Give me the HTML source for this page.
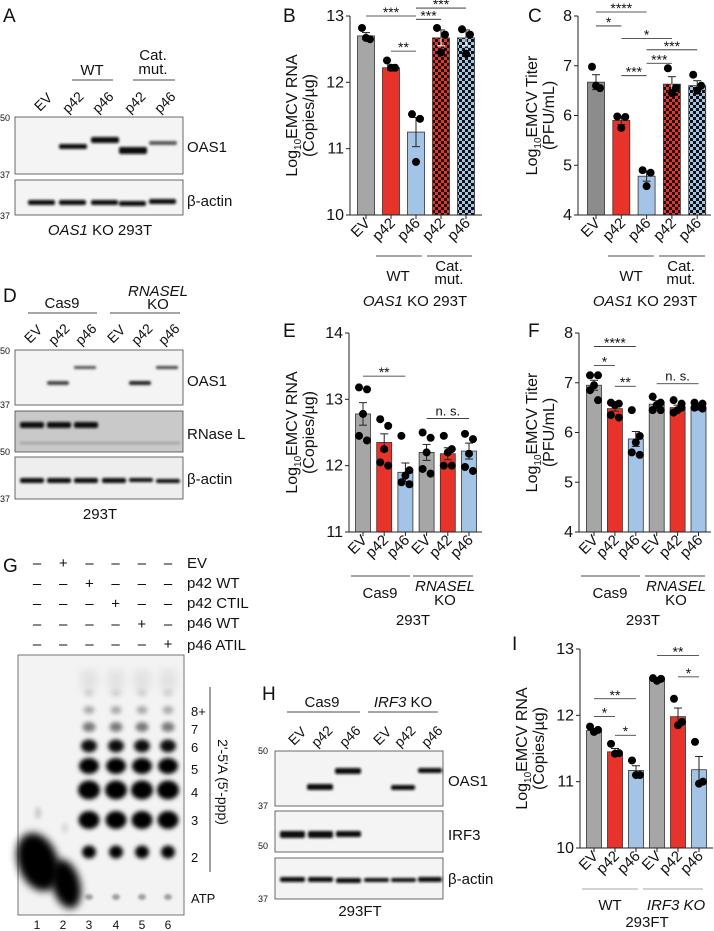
<!DOCTYPE html>
<html><head><meta charset="utf-8">
<style>
html,body{margin:0;padding:0;background:#fff;}
svg{display:block;font-family:"Liberation Sans",Arial,sans-serif;}
</style></head>
<body>
<svg id="fig" width="714" height="931" viewBox="0 0 714 931" xmlns="http://www.w3.org/2000/svg">
<defs>
<pattern id="chkRed" width="6" height="6" patternUnits="userSpaceOnUse"><rect width="6" height="6" fill="#e8332a"/><rect width="3" height="3" fill="#111"/><rect x="3" y="3" width="3" height="3" fill="#111"/></pattern>
<pattern id="chkBlue" width="6" height="6" patternUnits="userSpaceOnUse"><rect width="6" height="6" fill="#a3c4e6"/><rect width="3" height="3" fill="#111"/><rect x="3" y="3" width="3" height="3" fill="#111"/></pattern>
<filter id="blur1" x="-50%" y="-50%" width="200%" height="200%"><feGaussianBlur stdDeviation="1.2"/></filter>
<filter id="blur2" x="-50%" y="-50%" width="200%" height="200%"><feGaussianBlur stdDeviation="2"/></filter>
<filter id="blur3" x="-50%" y="-50%" width="200%" height="200%"><feGaussianBlur stdDeviation="4"/></filter>
</defs>
<g id="static" font-size="14" fill="#111">
<text x="3" y="22" font-size="19">A</text>
<text x="283" y="22" font-size="19">B</text>
<text x="528" y="22" font-size="19">C</text>
<text x="3" y="302" font-size="19">D</text>
<text x="283" y="337" font-size="19">E</text>
<text x="528" y="337" font-size="19">F</text>
<text x="3" y="572" font-size="19">G</text>
<text x="262" y="700" font-size="19">H</text>
<text x="512" y="650" font-size="19">I</text>

<!-- Panel A blot -->
<g>
<text x="92" y="75" text-anchor="middle" font-size="15">WT</text>
<line x1="72" y1="80" x2="113" y2="80" stroke="#111" stroke-width="0.8"/>
<text x="153" y="60" text-anchor="middle" font-size="15">Cat.</text>
<text x="153" y="74" text-anchor="middle" font-size="15">mut.</text>
<line x1="133" y1="80" x2="175" y2="80" stroke="#111" stroke-width="0.8"/>
<text transform="translate(40,112) rotate(-45)" font-size="14">EV</text>
<text transform="translate(68,114) rotate(-45)" font-size="14">p42</text>
<text transform="translate(98,114) rotate(-45)" font-size="14">p46</text>
<text transform="translate(130,114) rotate(-45)" font-size="14">p42</text>
<text transform="translate(160,114) rotate(-45)" font-size="14">p46</text>
<rect x="15" y="117" width="168" height="57" fill="#f4f4f4" stroke="#444" stroke-width="0.8"/>
<rect x="15" y="180" width="168" height="35" fill="#f4f4f4" stroke="#444" stroke-width="0.8"/>
<g filter="url(#blur1)" fill="#111">
<rect x="59" y="144" width="28" height="5" rx="2"/>
<rect x="91" y="137" width="28" height="6" rx="2"/>
<rect x="119" y="147" width="28" height="7" rx="2"/>
<rect x="149" y="141" width="28" height="4" rx="2" fill="#555"/>
<rect x="28" y="200" width="27" height="5" rx="2"/>
<rect x="59" y="200" width="27" height="5" rx="2"/>
<rect x="91" y="200" width="27" height="5" rx="2"/>
<rect x="119" y="201" width="27" height="5" rx="2"/>
<rect x="149" y="199" width="27" height="5" rx="2"/>
</g>
<text x="0" y="121" font-size="9">50</text>
<text x="0" y="178" font-size="9">37</text>
<text x="0" y="219" font-size="9">37</text>
<text x="187" y="152" font-size="15">OAS1</text>
<text x="187" y="206" font-size="15">β-actin</text>
<text x="100" y="235" text-anchor="middle" font-size="15"><tspan font-style="italic">OAS1</tspan> KO 293T</text>
</g>

<!-- Panel D blot -->
<g>
<text x="62" y="308" text-anchor="middle" font-size="15">Cas9</text>
<line x1="28" y1="313" x2="97" y2="313" stroke="#111" stroke-width="0.8"/>
<text x="158" y="296" text-anchor="middle" font-size="15" font-style="italic">RNASEL</text>
<text x="158" y="309" text-anchor="middle" font-size="15">KO</text>
<line x1="110" y1="313" x2="180" y2="313" stroke="#111" stroke-width="0.8"/>
<text transform="translate(30,344) rotate(-45)" font-size="14">EV</text>
<text transform="translate(54,346) rotate(-45)" font-size="14">p42</text>
<text transform="translate(81,346) rotate(-45)" font-size="14">p46</text>
<text transform="translate(113,344) rotate(-45)" font-size="14">EV</text>
<text transform="translate(137,346) rotate(-45)" font-size="14">p42</text>
<text transform="translate(164,346) rotate(-45)" font-size="14">p46</text>
<rect x="15" y="350" width="168" height="55" fill="#f4f4f4" stroke="#444" stroke-width="0.8"/>
<rect x="15" y="411" width="168" height="41" fill="#c9c9c9" stroke="#444" stroke-width="0.8"/>
<rect x="15" y="457" width="168" height="42" fill="#eeeeee" stroke="#444" stroke-width="0.8"/>
<g filter="url(#blur1)" fill="#222">
<rect x="47" y="381" width="22" height="4" rx="2" fill="#444"/>
<rect x="74" y="366" width="22" height="3" rx="1" fill="#555"/>
<rect x="129" y="381" width="22" height="4" rx="2"/>
<rect x="156" y="366" width="22" height="3" rx="1" fill="#444"/>
<rect x="20" y="422" width="24" height="6" rx="2" fill="#111"/>
<rect x="47" y="422" width="24" height="6" rx="2" fill="#111"/>
<rect x="74" y="422" width="24" height="6" rx="2" fill="#111"/>
<rect x="20" y="442" width="160" height="2" fill="#999"/>
<rect x="20" y="478" width="24" height="5" rx="2" fill="#111"/>
<rect x="47" y="478" width="24" height="5" rx="2" fill="#111"/>
<rect x="74" y="478" width="24" height="5" rx="2" fill="#111"/>
<rect x="102" y="478" width="24" height="5" rx="2" fill="#111"/>
<rect x="129" y="478" width="24" height="4" rx="2" fill="#111"/>
<rect x="156" y="479" width="24" height="4" rx="2" fill="#111"/>
</g>
<text x="0" y="354" font-size="9">50</text>
<text x="0" y="408" font-size="9">37</text>
<text x="0" y="455" font-size="9">50</text>
<text x="0" y="502" font-size="9">37</text>
<text x="187" y="386" font-size="15">OAS1</text>
<text x="187" y="439" font-size="15">RNase L</text>
<text x="187" y="484" font-size="15">β-actin</text>
<text x="100" y="519" text-anchor="middle" font-size="15">293T</text>
</g>

<!-- Panel G -->
<g font-size="15">
<g id="signs"></g>
<text x="187" y="568">EV</text>
<text x="187" y="588">p42 WT</text>
<text x="187" y="608">p42 CTIL</text>
<text x="187" y="628">p46 WT</text>
<text x="187" y="650">p46 ATIL</text>
<rect x="18" y="655" width="166" height="260" fill="#f3f3f3" stroke="#555" stroke-width="0.8"/>
<g id="spots"></g>
<text x="191" y="716" font-size="13">8+</text>
<text x="191" y="734" font-size="13">7</text>
<text x="191" y="752" font-size="13">6</text>
<text x="191" y="774" font-size="13">5</text>
<text x="191" y="797" font-size="13">4</text>
<text x="191" y="825" font-size="13">3</text>
<text x="191" y="862" font-size="13">2</text>
<text x="191" y="903" font-size="13">ATP</text>
<line x1="210" y1="687" x2="210" y2="872" stroke="#111" stroke-width="0.8"/>
<text transform="translate(218,782) rotate(90)" text-anchor="middle" font-size="14">2'-5'A (5'-ppp)</text>
<text x="37" y="929" text-anchor="middle" font-size="12">1</text>
<text x="63" y="929" text-anchor="middle" font-size="12">2</text>
<text x="89" y="929" text-anchor="middle" font-size="12">3</text>
<text x="116" y="929" text-anchor="middle" font-size="12">4</text>
<text x="142" y="929" text-anchor="middle" font-size="12">5</text>
<text x="168" y="929" text-anchor="middle" font-size="12">6</text>
</g>

<!-- Panel H -->
<g>
<text x="322" y="707" text-anchor="middle" font-size="15">Cas9</text>
<line x1="287" y1="712" x2="360" y2="712" stroke="#111" stroke-width="0.8"/>
<text x="403" y="707" text-anchor="middle" font-size="15"><tspan font-style="italic">IRF3</tspan> KO</text>
<line x1="368" y1="712" x2="438" y2="712" stroke="#111" stroke-width="0.8"/>
<text transform="translate(294,746) rotate(-45)" font-size="14">EV</text>
<text transform="translate(317,748) rotate(-45)" font-size="14">p42</text>
<text transform="translate(345,748) rotate(-45)" font-size="14">p46</text>
<text transform="translate(379,746) rotate(-45)" font-size="14">EV</text>
<text transform="translate(400,748) rotate(-45)" font-size="14">p42</text>
<text transform="translate(427,748) rotate(-45)" font-size="14">p46</text>
<rect x="275" y="751" width="168" height="55" fill="#f4f4f4" stroke="#444" stroke-width="0.8"/>
<rect x="275" y="811" width="168" height="41" fill="#f4f4f4" stroke="#444" stroke-width="0.8"/>
<rect x="275" y="858" width="168" height="41" fill="#f4f4f4" stroke="#444" stroke-width="0.8"/>
<g filter="url(#blur1)" fill="#111">
<rect x="307" y="784" width="26" height="6" rx="2"/>
<rect x="335" y="768" width="26" height="6" rx="2"/>
<rect x="391" y="785" width="24" height="5" rx="2"/>
<rect x="418" y="768" width="24" height="5" rx="2"/>
<rect x="280" y="831" width="25" height="7" rx="2"/>
<rect x="308" y="831" width="25" height="7" rx="2"/>
<rect x="336" y="831" width="25" height="6" rx="2"/>
<rect x="280" y="877" width="25" height="5" rx="2"/>
<rect x="308" y="877" width="25" height="5" rx="2"/>
<rect x="336" y="878" width="25" height="5" rx="2"/>
<rect x="364" y="878" width="25" height="4" rx="2"/>
<rect x="391" y="878" width="25" height="4" rx="2"/>
<rect x="418" y="877" width="24" height="5" rx="2"/>
</g>
<text x="258" y="754" font-size="9">50</text>
<text x="258" y="809" font-size="9">37</text>
<text x="258" y="849" font-size="9">50</text>
<text x="258" y="902" font-size="9">37</text>
<text x="448" y="786" font-size="15">OAS1</text>
<text x="448" y="840" font-size="15">IRF3</text>
<text x="448" y="884" font-size="15">β-actin</text>
<text x="360" y="916" text-anchor="middle" font-size="15">293FT</text>
</g>

<g font-size="15">
<line x1="376" y1="256" x2="422" y2="256" stroke="#111" stroke-width="0.8"/>
<line x1="427" y1="256" x2="472" y2="256" stroke="#111" stroke-width="0.8"/>
<text x="398" y="281" text-anchor="middle">WT</text>
<text x="449" y="271" text-anchor="middle">Cat.</text>
<text x="449" y="284" text-anchor="middle">mut.</text>
<text x="415" y="306" text-anchor="middle"><tspan font-style="italic">OAS1</tspan> KO 293T</text>
<line x1="608" y1="256" x2="654" y2="256" stroke="#111" stroke-width="0.8"/>
<line x1="659" y1="256" x2="705" y2="256" stroke="#111" stroke-width="0.8"/>
<text x="631" y="281" text-anchor="middle">WT</text>
<text x="681" y="271" text-anchor="middle">Cat.</text>
<text x="681" y="284" text-anchor="middle">mut.</text>
<text x="645" y="306" text-anchor="middle"><tspan font-style="italic">OAS1</tspan> KO 293T</text>

<line x1="351" y1="576" x2="410" y2="576" stroke="#111" stroke-width="0.8"/>
<line x1="413" y1="576" x2="473" y2="576" stroke="#111" stroke-width="0.8"/>
<text x="380" y="598" text-anchor="middle">Cas9</text>
<text x="445" y="591" text-anchor="middle" font-style="italic">RNASEL</text>
<text x="445" y="605" text-anchor="middle">KO</text>
<text x="413" y="625" text-anchor="middle">293T</text>
<line x1="581" y1="576" x2="640" y2="576" stroke="#111" stroke-width="0.8"/>
<line x1="645" y1="576" x2="705" y2="576" stroke="#111" stroke-width="0.8"/>
<text x="610" y="598" text-anchor="middle">Cas9</text>
<text x="676" y="591" text-anchor="middle" font-style="italic">RNASEL</text>
<text x="676" y="605" text-anchor="middle">KO</text>
<text x="643" y="625" text-anchor="middle">293T</text>

<line x1="582" y1="889" x2="638" y2="889" stroke="#888" stroke-width="0.8"/>
<line x1="643" y1="889" x2="703" y2="889" stroke="#888" stroke-width="0.8"/>
<text x="610" y="910" text-anchor="middle">WT</text>
<text x="676" y="910" text-anchor="middle" font-style="italic">IRF3 KO</text>
<text x="647" y="927" text-anchor="middle">293FT</text>
</g>
</g>
<g id="charts"></g>
</svg>
<script>
// ---------- Chart B data ----------
const bCats = ["EV","p42","p46","p42","p46"];
const bMeans = [12.70, 12.22, 11.25, 12.67, 12.67];
const bErr = [0.05, 0.04, 0.22, 0.12, 0.12];
const bDots = [[12.82,12.65,12.67],[12.33,12.22,12.22],[11.52,11.45,10.80],[12.82,12.72,12.45],[12.80,12.72,12.43]];
const bTicks = [10, 11, 12, 13];
// ---------- Chart C data ----------
const cCats = ["EV","p42","p46","p42","p46"];
const cMeans = [6.67, 5.90, 4.78, 6.63, 6.60];
const cErr = [0.15, 0.08, 0.10, 0.15, 0.10];
const cDots = [[6.98,6.55,6.60],[5.98,5.97,5.75],[4.90,4.85,4.58],[6.95,6.55,6.45],[6.82,6.60,6.50]];
const cTicks = [4, 5, 6, 7, 8];
// ---------- Chart E data ----------
const eCats = ["EV","p42","p46","EV","p42","p46"];
const eMeans = [12.78, 12.35, 11.90, 12.20, 12.18, 12.22];
const eErr = [0.17, 0.13, 0.14, 0.12, 0.09, 0.12];
const eDots = [[13.18,13.15,12.78,12.45,12.38],[12.70,12.60,12.25,12.05,12.00],[12.45,11.93,11.85,11.75,11.72],[12.50,12.42,12.20,11.95,11.88],[12.45,12.25,12.20,12.00,12.00],[12.48,12.40,12.18,11.98,11.92]];
const eTicks = [11, 12, 13, 14];
// ---------- Chart F data ----------
const fCats = ["EV","p42","p46","EV","p42","p46"];
const fMeans = [6.95, 6.48, 5.87, 6.57, 6.50, 6.52];
const fErr = [0.10, 0.05, 0.15, 0.07, 0.05, 0.03];
const fDots = [[7.15,7.15,6.95,6.85,6.65],[6.60,6.58,6.55,6.35,6.30],[6.45,5.93,5.80,5.60,5.55],[6.72,6.60,6.55,6.45,6.45],[6.65,6.58,6.45,6.40,6.50],[6.60,6.58,6.52,6.50,6.48]];
const fTicks = [4, 5, 6, 7, 8];
// ---------- Chart I data ----------
const iCats = ["EV","p42","p46","EV","p42","p46"];
const iMeans = [11.77, 11.45, 11.17, 12.55, 11.98, 11.18];
const iErr = [0.03, 0.05, 0.07, 0.02, 0.13, 0.20];
const iDots = [[11.83,11.78,11.75],[11.57,11.43,11.42],[11.32,11.10,11.10],[12.56,12.55,12.52],[12.25,11.90,11.85],[11.60,11.00,10.97]];
const iTicks = [10, 11, 12, 13];
// significance: [fromIndex, toIndex, yValue, label]
const bSig = [[0,2,13.0,"***"],[2,4,13.12,"***"],[2,3,12.95,"***"],[1,2,12.47,"**"]];
const cSig = [[0,2,8.08,"****"],[0,1,7.8,"*"],[1,3,7.55,"*"],[2,4,7.32,"***"],[2,3,7.05,"***"],[1,2,6.8,"***"]];
const eSig = [[0,2,13.35,"**"],[3,5,12.71,"n. s."]];
const fSig = [[0,2,7.73,"****"],[0,1,7.35,"*"],[1,2,6.93,"**"],[3,5,6.98,"n. s."]];
const iSig = [[0,2,12.25,"**"],[0,1,11.98,"*"],[1,2,11.7,"*"],[3,5,12.9,"**"],[4,5,12.58,"*"]];

const NS = "http://www.w3.org/2000/svg";
const root = document.getElementById('charts');
function mk(tag, attrs, parent){ const e=document.createElementNS(NS,tag); for(const k in attrs) e.setAttribute(k,attrs[k]); (parent||root).appendChild(e); return e; }

function drawChart(opt){
  const g = mk('g',{});
  
  
  const y = v => opt.yBot - (v - opt.yMin)/(opt.yMax - opt.yMin)*(opt.yBot - opt.yTop);
  const xc = i => opt.first + i*opt.step;
  opt.means.forEach((m,i)=>{
    const r = mk('rect',{x:xc(i)-opt.bw/2, y:y(m), width:opt.bw, height:opt.yBot-y(m), fill:opt.fills[i], stroke:'#333','stroke-width':0.8}, g);
    
    
  });
  opt.means.forEach((m,i)=>{
    const e = opt.err[i];
    const lc = opt.fills[i].indexOf('url')===0?'#fff':'#222';
    mk('line',{x1:xc(i),x2:xc(i),y1:y(m+e),y2:y(m),stroke:'#222','stroke-width':1}, g);
    mk('line',{x1:xc(i)-4,x2:xc(i)+4,y1:y(m+e),y2:y(m+e),stroke:'#222','stroke-width':1}, g);
    mk('line',{x1:xc(i),x2:xc(i),y1:y(m),y2:y(m-e),stroke:lc,'stroke-width':1}, g);
    mk('line',{x1:xc(i)-4,x2:xc(i)+4,y1:y(m-e),y2:y(m-e),stroke:lc,'stroke-width':1}, g);
  });
  const offs = opt.dots[0].length===3 ? [-4,4,0] : [-4,4,0,-4,4];
  opt.dots.forEach((ds,i)=>{
    ds.forEach((v,j)=>{
      const c = mk('circle',{cx:xc(i)+offs[j], cy:y(v), r:4, fill:'#000'}, g);
      
      
    });
  });
  mk('line',{x1:opt.axX,x2:opt.axX,y1:opt.yTop,y2:opt.yBot,stroke:'#222','stroke-width':1}, g);
  mk('line',{x1:opt.axX,x2:opt.axEnd,y1:opt.yBot,y2:opt.yBot,stroke:'#222','stroke-width':1}, g);
  opt.ticks.forEach(t=>{
    mk('line',{x1:opt.axX-4,x2:opt.axX,y1:y(t),y2:y(t),stroke:'#222','stroke-width':1}, g);
    const tx = mk('text',{x:opt.axX-6,y:y(t)+5,'text-anchor':'end','font-size':16,fill:'#111'}, g);
    tx.textContent = t;
    
    
  });
  opt.cats.forEach((c,i)=>{
    mk('line',{x1:xc(i),x2:xc(i),y1:opt.yBot,y2:opt.yBot+4,stroke:'#222','stroke-width':1}, g);
    const tx = mk('text',{transform:`translate(${xc(i)+5},${opt.yBot+9}) rotate(-45)`,'text-anchor':'end','font-size':15,fill:'#111'}, g);
    tx.textContent = c;
    
    
  });
  opt.sig.forEach(s=>{
    const yy = y(s[2]);
    mk('line',{x1:xc(s[0]),x2:xc(s[1]),y1:yy,y2:yy,stroke:'#222','stroke-width':0.8}, g);
    const isNs = s[3].indexOf('n')===0;
    const tx = mk('text',{x:(xc(s[0])+xc(s[1]))/2,y:isNs?yy-3:yy+1,'text-anchor':'middle','font-size':isNs?13:14,fill:'#111'}, g);
    tx.textContent = s[3];
    
    
  });
  const cy = (opt.yTop+opt.yBot)/2;
  const t1 = mk('text',{transform:`translate(${opt.labX},${cy}) rotate(-90)`,'text-anchor':'middle','font-size':16,fill:'#111'}, g);
  
  
  const a = mk('tspan',{}, t1); a.textContent='Log';
  const b = mk('tspan',{'font-size':10,dy:4}, t1); b.textContent='10';
  const c2 = mk('tspan',{dy:-4}, t1); c2.textContent=opt.lab1;
  const t2 = mk('text',{transform:`translate(${opt.labX+17},${cy}) rotate(-90)`,'text-anchor':'middle','font-size':16,fill:'#111'}, g);
  t2.textContent = opt.lab2;
  
  
}
const G='#a6a6a6', R='#e8332a', B='#a3c4e6';
drawChart({name:'chart-b',cats:bCats,means:bMeans,err:bErr,dots:bDots,ticks:bTicks,sig:bSig,yMin:10,yMax:13,yTop:16,yBot:215,axX:350,axEnd:482,first:366,step:25,bw:17,fills:[G,R,B,'url(#chkRed)','url(#chkBlue)'],labX:297,lab1:'EMCV RNA',lab2:'(Copies/µg)'});
drawChart({name:'chart-c',cats:cCats,means:cMeans,err:cErr,dots:cDots,ticks:cTicks,sig:cSig,yMin:4,yMax:8,yTop:16,yBot:215,axX:578,axEnd:711,first:596,step:25.3,bw:17,fills:['#8c8c8c',R,B,'url(#chkRed)','url(#chkBlue)'],labX:537,lab1:'EMCV Titer',lab2:'(PFU/mL)'});
drawChart({name:'chart-e',cats:eCats,means:eMeans,err:eErr,dots:eDots,ticks:eTicks,sig:eSig,yMin:11,yMax:14,yTop:333,yBot:532,axX:349,axEnd:482,first:363,step:21.2,bw:15,fills:[G,R,B,G,R,B],labX:297,lab1:'EMCV RNA',lab2:'(Copies/µg)'});
drawChart({name:'chart-f',cats:fCats,means:fMeans,err:fErr,dots:fDots,ticks:fTicks,sig:fSig,yMin:4,yMax:8,yTop:333,yBot:532,axX:579,axEnd:711,first:594,step:20.9,bw:15,fills:[G,R,B,G,R,B],labX:537,lab1:'EMCV Titer',lab2:'(PFU/mL)'});
drawChart({name:'chart-i',cats:iCats,means:iMeans,err:iErr,dots:iDots,ticks:iTicks,sig:iSig,yMin:10,yMax:13,yTop:649,yBot:848,axX:580,axEnd:713,first:594,step:21,bw:15,fills:[G,R,B,G,R,B],labX:527,lab1:'EMCV RNA',lab2:'(Copies/µg)'});

// ---------- Panel G signs ----------
const gRows = [[0,1,0,0,0,0],[0,0,1,0,0,0],[0,0,0,1,0,0],[0,0,0,0,1,0],[0,0,0,0,0,1]];
const signs = document.getElementById('signs');
gRows.forEach((row,r)=>{
  row.forEach((v,c)=>{
    const t = mk('text',{x:37+c*26.2,y:568+r*20.3,'text-anchor':'middle','font-size':15,fill:'#111'}, signs);
    t.textContent = v ? '+' : '–';
  });
});
// ---------- Panel G spots ----------
const spots = document.getElementById('spots');
const bandY = [693,710,727,746,766,790,820,852];
const bandR = [[5,4],[5.5,4],[6.5,5],[8,6.5],[10,8],[11,9.5],[10.5,9],[7,6.5]];
const bandOp = [0.12,0.3,0.5,0.95,1,1,1,1];
[89,116,142,168].forEach((x)=>{
  bandY.forEach((yy,k)=>{
    mk('ellipse',{cx:x,cy:yy,rx:bandR[k][0],ry:bandR[k][1],fill:'#000','fill-opacity':bandOp[k],filter:'url(#blur2)'}, spots);
  });
  mk('ellipse',{cx:x,cy:897,rx:4,ry:3,fill:'#000','fill-opacity':0.35,filter:'url(#blur1)'}, spots);
  mk('rect',{x:x-8,y:670,width:16,height:20,fill:'#000','fill-opacity':0.07,filter:'url(#blur3)'}, spots);
});
mk('ellipse',{cx:38,cy:862,rx:20,ry:30,fill:'#000',transform:'rotate(-20 38 862)',filter:'url(#blur3)'}, spots);
mk('ellipse',{cx:66,cy:884,rx:14,ry:25,fill:'#000',transform:'rotate(-15 66 884)',filter:'url(#blur3)'}, spots);
mk('ellipse',{cx:38,cy:813,rx:3,ry:6,fill:'#000','fill-opacity':0.18,filter:'url(#blur2)'}, spots);
mk('ellipse',{cx:65,cy:828,rx:3,ry:5,fill:'#000','fill-opacity':0.12,filter:'url(#blur2)'}, spots);
</script>
</body></html>
